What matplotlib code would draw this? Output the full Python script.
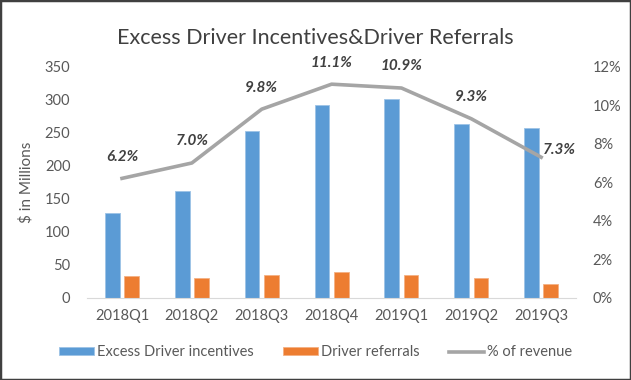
import numpy as np
import matplotlib.pyplot as plt
from matplotlib.patches import Rectangle

plt.rcParams['font.family'] = ['Lato', 'DejaVu Sans']

quarters = ['2018Q1', '2018Q2', '2018Q3', '2018Q4', '2019Q1', '2019Q2', '2019Q3']
excess_incentives = [128, 162, 252, 292, 301, 263, 258]
driver_referrals = [32, 30, 34, 38, 34, 29, 20]
pct_revenue = [6.2, 7.0, 9.8, 11.1, 10.9, 9.3, 7.3]

blue = '#5B9BD5'
orange = '#ED7D31'
gray = '#A5A5A5'
text_gray = '#595959'

fig = plt.figure(figsize=(6.31, 3.80), dpi=100)
ax = fig.add_axes([0.138, 0.217, 0.775, 0.607])
x = np.arange(len(quarters))

ax.bar(x - 0.138, excess_incentives, width=0.21, color=blue, edgecolor='#9DC3E6',
       linewidth=0.6, label='Excess Driver incentives')
ax.bar(x + 0.138, driver_referrals, width=0.21, color=orange, edgecolor='#F4B183',
       linewidth=0.6, label='Driver referrals')

ax.set_xlim(-0.5, len(quarters) - 0.5)
ax.set_ylim(0, 350)
ax.set_yticks(range(0, 351, 50))
ax.set_xticks(x)
ax.set_xticklabels(quarters)
ax.tick_params(axis='both', length=0, labelsize=10.5, colors=text_gray)
ax.tick_params(axis='y', pad=12)
ax.tick_params(axis='x', pad=8)
for s in ['top', 'right', 'left']:
    ax.spines[s].set_visible(False)
ax.spines['bottom'].set_color('#D9D9D9')
ax.set_ylabel('$ in Millions', fontsize=11, color=text_gray, labelpad=8)

ax2 = ax.twinx()
ax2.plot(x, pct_revenue, color=gray, linewidth=2.6, label='% of revenue')
ax2.set_ylim(0, 12)
ax2.set_yticks(range(0, 13, 2))
ax2.set_yticklabels([f'{v}%' for v in range(0, 13, 2)])
ax2.tick_params(axis='y', length=0, labelsize=10.5, colors=text_gray, pad=12)
for s in ax2.spines.values():
    s.set_visible(False)

for i, v in enumerate(pct_revenue):
    off = (13, 5) if i == len(pct_revenue) - 1 else (0, 15.5)
    ax2.annotate(f'{v:.1f}%', (x[i], v), xytext=off, textcoords='offset points',
                 ha='center', va='center', fontsize=11, fontweight='bold',
                 fontstyle='italic', color='#404040')

fig.suptitle('Excess Driver Incentives&Driver Referrals', y=0.925, fontsize=15.5,
             color='#404040')

h1, l1 = ax.get_legend_handles_labels()
h2, l2 = ax2.get_legend_handles_labels()
fig.legend(h1 + h2, l1 + l2, loc='center', bbox_to_anchor=(0.5, 0.073), ncol=3,
           frameon=False, fontsize=10.5, labelcolor=text_gray, handlelength=2.4,
           handleheight=0.5, handletextpad=0.2, columnspacing=2.0)

fig.patches.append(Rectangle((0, 0), 1, 1, transform=fig.transFigure, fill=False,
                             edgecolor='#404040', linewidth=2.5))

fig.savefig('out.png', dpi=100)
